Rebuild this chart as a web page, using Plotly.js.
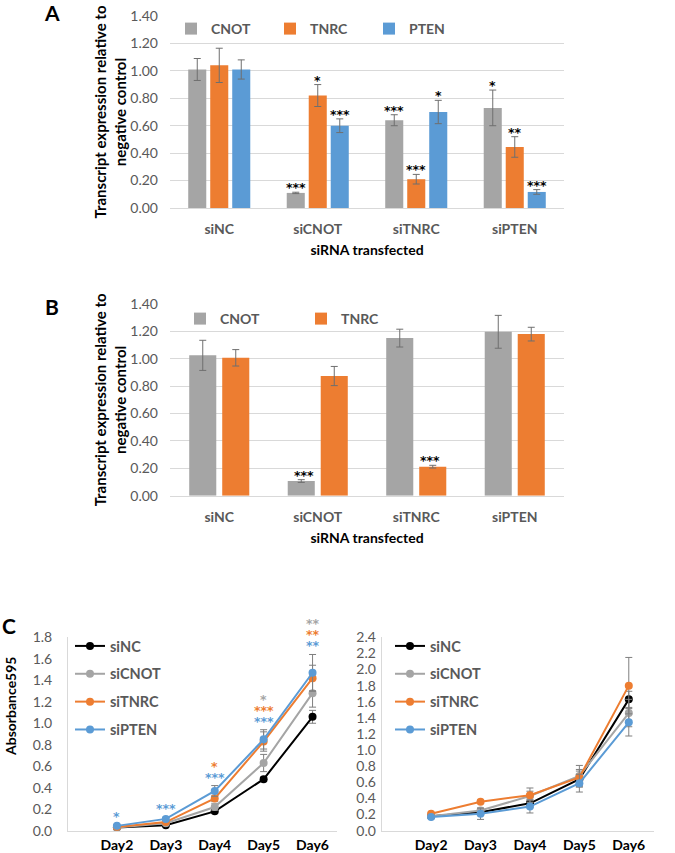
<!DOCTYPE html>
<html>
<head>
<meta charset="utf-8">
<script src="https://cdn.plot.ly/plotly-3.0.1.min.js"></script>
<style>html,body{margin:0;padding:0;background:#fff}#chart{width:675px;height:853px}</style>
</head>
<body>
<div id="chart"></div>
<script>
// ---------- Panel A data ----------
const categories = ['siNC', 'siCNOT', 'siTNRC', 'siPTEN'];
const aCNOT = [1.01, 0.11, 0.64, 0.73];
const aCNOTerr = [0.08, 0.005, 0.04, 0.13];
const aTNRC = [1.04, 0.82, 0.21, 0.445];
const aTNRCerr = [0.125, 0.08, 0.035, 0.075];
const aPTEN = [1.01, 0.60, 0.70, 0.117];
const aPTENerr = [0.07, 0.05, 0.085, 0.017];
const aCNOTstars = ['', '***', '***', '*'];
const aTNRCstars = ['', '*', '***', '**'];
const aPTENstars = ['', '***', '*', '***'];

// ---------- Panel B data ----------
const bCNOT = [1.025, 0.107, 1.151, 1.197];
const bCNOTerr = [0.11, 0.01, 0.065, 0.12];
const bTNRC = [1.007, 0.874, 0.212, 1.18];
const bTNRCerr = [0.06, 0.07, 0.01, 0.05];
const bCNOTstars = ['', '***', '', ''];
const bTNRCstars = ['', '', '***', ''];

// ---------- Panel C data ----------
const days = ['Day2', 'Day3', 'Day4', 'Day5', 'Day6'];
const c1NC = [0.03, 0.05, 0.18, 0.48, 1.06];
const c1NCerr = [0.005, 0.01, 0.015, 0.02, 0.06];
const c1CNOT = [0.03, 0.07, 0.22, 0.63, 1.28];
const c1CNOTerr = [0.005, 0.01, 0.03, 0.08, 0.13];
const c1TNRC = [0.035, 0.08, 0.30, 0.83, 1.42];
const c1TNRCerr = [0.005, 0.01, 0.03, 0.09, 0.12];
const c1PTEN = [0.045, 0.11, 0.37, 0.85, 1.47];
const c1PTENerr = [0.005, 0.015, 0.05, 0.09, 0.17];
const c1CNOTstars = ['', '', '', '*', '**'];
const c1TNRCstars = ['', '', '*', '***', '**'];
const c1PTENstars = ['*', '***', '***', '***', '**'];

const c2NC = [0.18, 0.23, 0.34, 0.64, 1.63];
const c2NCerr = [0.01, 0.03, 0.05, 0.10, 0.10];
const c2CNOT = [0.18, 0.25, 0.43, 0.68, 1.46];
const c2CNOTerr = [0.01, 0.03, 0.06, 0.13, 0.17];
const c2TNRC = [0.21, 0.36, 0.44, 0.66, 1.80];
const c2TNRCerr = [0.01, 0.02, 0.09, 0.10, 0.35];
const c2PTEN = [0.17, 0.21, 0.30, 0.59, 1.345];
const c2PTENerr = [0.01, 0.07, 0.08, 0.11, 0.17];

// ---------- styles ----------
const FONT = 'Lato, "Open Sans", sans-serif';
const STARFONT = '"DejaVu Sans", sans-serif';
const GRAY = '#A5A5A5', ORANGE = '#ED7D31', BLUE = '#5B9BD5', BLACK = '#000000';
const TXT = '#595959', GRID = '#D9D9D9', ERR = '#6f6f6f';
const W = 675, H = 853;
const px = v => v / W;
const py = v => 1 - v / H;

const traces = [];
const annotations = [];

function errY(arr, w) {
  return {type: 'data', array: arr, visible: true, color: ERR, thickness: 1, width: w};
}

// bar geometry
const aGap = 0.33, aGroupGap = 0.18;
const bGap = 0.43, bGroupGap = 0.21;

function starAnn(xref, yref, x, y, s, col, yshift) {
  return {xref: xref, yref: yref, x: x, y: y, text: s, showarrow: false, yanchor: 'bottom', xanchor: 'center',
    yshift: yshift, font: {family: STARFONT, size: 12.5, color: col, weight: 700}};
}

// Panel A bars
const aSets = [['CNOT', aCNOT, aCNOTerr, GRAY, aCNOTstars], ['TNRC', aTNRC, aTNRCerr, ORANGE, aTNRCstars], ['PTEN', aPTEN, aPTENerr, BLUE, aPTENstars]];
aSets.forEach(([name, vals, errs, col, stars], k) => {
  traces.push({type: 'bar', name: name, x: categories, y: vals, xaxis: 'x', yaxis: 'y', legend: 'legend',
    marker: {color: col}, error_y: errY(errs, 3.5)});
  const slot = (1 - aGap) / aSets.length;
  const off = -(1 - aGap) / 2 + slot * (k + 0.5);
  stars.forEach((s, i) => {
    if (!s) return;
    annotations.push(starAnn('x', 'y', i + off, vals[i] + errs[i], s, '#000', -5));
  });
});

// Panel B bars
const bSets = [['CNOT', bCNOT, bCNOTerr, GRAY, bCNOTstars], ['TNRC', bTNRC, bTNRCerr, ORANGE, bTNRCstars]];
bSets.forEach(([name, vals, errs, col, stars], k) => {
  traces.push({type: 'bar', name: name, x: categories, y: vals, xaxis: 'x2', yaxis: 'y2', legend: 'legend2',
    marker: {color: col}, error_y: errY(errs, 3.5)});
  const slot = (1 - bGap) / bSets.length;
  const off = -(1 - bGap) / 2 + slot * (k + 0.5);
  stars.forEach((s, i) => {
    if (!s) return;
    annotations.push(starAnn('x2', 'y2', i + off, vals[i] + errs[i], s, '#000', -5));
  });
});

// Panel C lines
const lineNames = ['siNC', 'siCNOT', 'siTNRC', 'siPTEN'];
const lineColors = [BLACK, GRAY, ORANGE, BLUE];
const c1Sets = [[c1NC, c1NCerr], [c1CNOT, c1CNOTerr], [c1TNRC, c1TNRCerr], [c1PTEN, c1PTENerr]];
const c2Sets = [[c2NC, c2NCerr], [c2CNOT, c2CNOTerr], [c2TNRC, c2TNRCerr], [c2PTEN, c2PTENerr]];
function addLines(sets, xa, ya, lg) {
  sets.forEach(([vals, errs], k) => {
    traces.push({type: 'scatter', mode: 'lines+markers', name: lineNames[k], x: days, y: vals,
      xaxis: xa, yaxis: ya, legend: lg, legendgroup: lg + '_' + k,
      line: {color: lineColors[k], width: 2}, marker: {color: lineColors[k], size: 8},
      error_y: {type: 'data', array: errs, visible: true, color: '#7f7f7f', thickness: 1, width: 3.5}});
  });
}
addLines(c1Sets, 'x3', 'y3', 'legend3');
addLines(c2Sets, 'x4', 'y4', 'legend4');

// Panel C left stars, stacked above the highest error bar of each day
const starStack = [[c1PTENstars, BLUE], [c1TNRCstars, ORANGE], [c1CNOTstars, GRAY]];
days.forEach((d, i) => {
  let base = 0;
  c1Sets.forEach(([vals, errs]) => { base = Math.max(base, vals[i] + errs[i]); });
  let k = 0;
  starStack.forEach(([stars, col]) => {
    if (!stars[i]) return;
    annotations.push(starAnn('x3', 'y3', i, base, stars[i], col, -1 + 11 * k));
    k++;
  });
});

// Panel letters and C y title
const letterFont = {family: FONT, size: 21, color: '#000', weight: 700};
annotations.push({xref: 'paper', yref: 'paper', x: px(52), y: py(12), text: 'A', showarrow: false, font: letterFont, xanchor: 'center', yanchor: 'middle'});
annotations.push({xref: 'paper', yref: 'paper', x: px(52), y: py(306), text: 'B', showarrow: false, font: letterFont, xanchor: 'center', yanchor: 'middle'});
annotations.push({xref: 'paper', yref: 'paper', x: px(9), y: py(625), text: 'C', showarrow: false, font: letterFont, xanchor: 'center', yanchor: 'middle'});
annotations.push({xref: 'paper', yref: 'paper', x: px(10), y: py(707), text: 'Absorbance595', textangle: -90, showarrow: false,
  font: {family: FONT, size: 14, color: '#000', weight: 700}, xanchor: 'center', yanchor: 'middle'});

const tickGray = {family: FONT, size: 14, color: TXT};
const tickBoldGray = {family: FONT, size: 14, color: TXT, weight: 700};
const tickBoldBlack = {family: FONT, size: 14, color: '#000', weight: 700};
const titleFont = {family: FONT, size: 14, color: '#000', weight: 700};
const yTitleFont = {family: FONT, size: 15, color: '#000', weight: 700};

function barX(dom, anchor) {
  return {domain: dom, anchor: anchor, type: 'category', showline: true, linecolor: GRID, linewidth: 1,
    showgrid: false, zeroline: false, ticks: '', tickfont: tickBoldGray, ticklabelstandoff: 8,
    title: {text: 'siRNA transfected', font: titleFont, standoff: 9}, fixedrange: true};
}
function barY(dom, anchor) {
  return {domain: dom, anchor: anchor, range: [0, 1.4], dtick: 0.2, tickformat: '.2f', showgrid: true,
    gridcolor: GRID, gridwidth: 1, zeroline: false, showline: false, ticks: '', tickfont: tickGray,
    ticklabelstandoff: 11,
    title: {text: 'Transcript expression relative to<br>negative control', font: yTitleFont, standoff: 0}, fixedrange: true};
}
function lineX(dom, anchor) {
  return {domain: dom, anchor: anchor, type: 'category', range: [-1, 4.5], showline: true, linecolor: GRID,
    linewidth: 1, showgrid: false, zeroline: false, ticks: '', tickfont: tickBoldBlack, ticklabelstandoff: 1, fixedrange: true};
}
function lineY(dom, anchor, top, so) {
  return {domain: dom, anchor: anchor, range: [0, top], dtick: 0.2, tickformat: '.1f', showline: true,
    linecolor: GRID, linewidth: 1, showgrid: false, zeroline: false, ticks: '', tickfont: tickGray,
    ticklabelstandoff: so, fixedrange: true};
}

const legendBase = {orientation: 'h', font: tickBoldGray, bgcolor: 'rgba(0,0,0,0)', borderwidth: 0,
  xanchor: 'left', yanchor: 'middle', traceorder: 'normal', entrywidthmode: 'pixels'};
const vLegend = {orientation: 'v', font: {family: FONT, size: 14.5, color: TXT, weight: 700}, bgcolor: 'rgba(0,0,0,0)',
  borderwidth: 0, xanchor: 'left', yanchor: 'top', traceorder: 'grouped', tracegroupgap: 6, itemwidth: 30};

const layout = {
  width: W, height: H, margin: {l: 0, r: 0, t: 0, b: 0}, paper_bgcolor: '#fff', plot_bgcolor: '#fff',
  font: {family: FONT}, showlegend: true, hovermode: false,
  bargap: aGap, bargroupgap: aGroupGap, barmode: 'group',
  xaxis: barX([px(170), px(564)], 'y'),
  yaxis: barY([py(208), py(16)], 'x'),
  xaxis2: barX([px(170), px(564)], 'y2'),
  yaxis2: barY([py(495.7), py(304)], 'x2'),
  xaxis3: lineX([px(68), px(337)], 'y3'),
  yaxis3: lineY([py(830.7), py(637.3)], 'x3', 1.8, 12),
  xaxis4: lineX([px(381.7), px(653.5)], 'y4'),
  yaxis4: lineY([py(830.7), py(637.3)], 'x4', 2.4, 2),
  legend: Object.assign({}, legendBase, {x: px(171), y: py(29), entrywidth: 54}),
  legend2: Object.assign({}, legendBase, {x: px(180), y: py(319), entrywidth: 76}),
  legend3: Object.assign({}, vLegend, {x: px(70), y: py(630)}),
  legend4: Object.assign({}, vLegend, {x: px(390), y: py(630)}),
  annotations: annotations
};

Plotly.newPlot('chart', traces, layout, {staticPlot: true, displayModeBar: false});
</script>
</body>
</html>
